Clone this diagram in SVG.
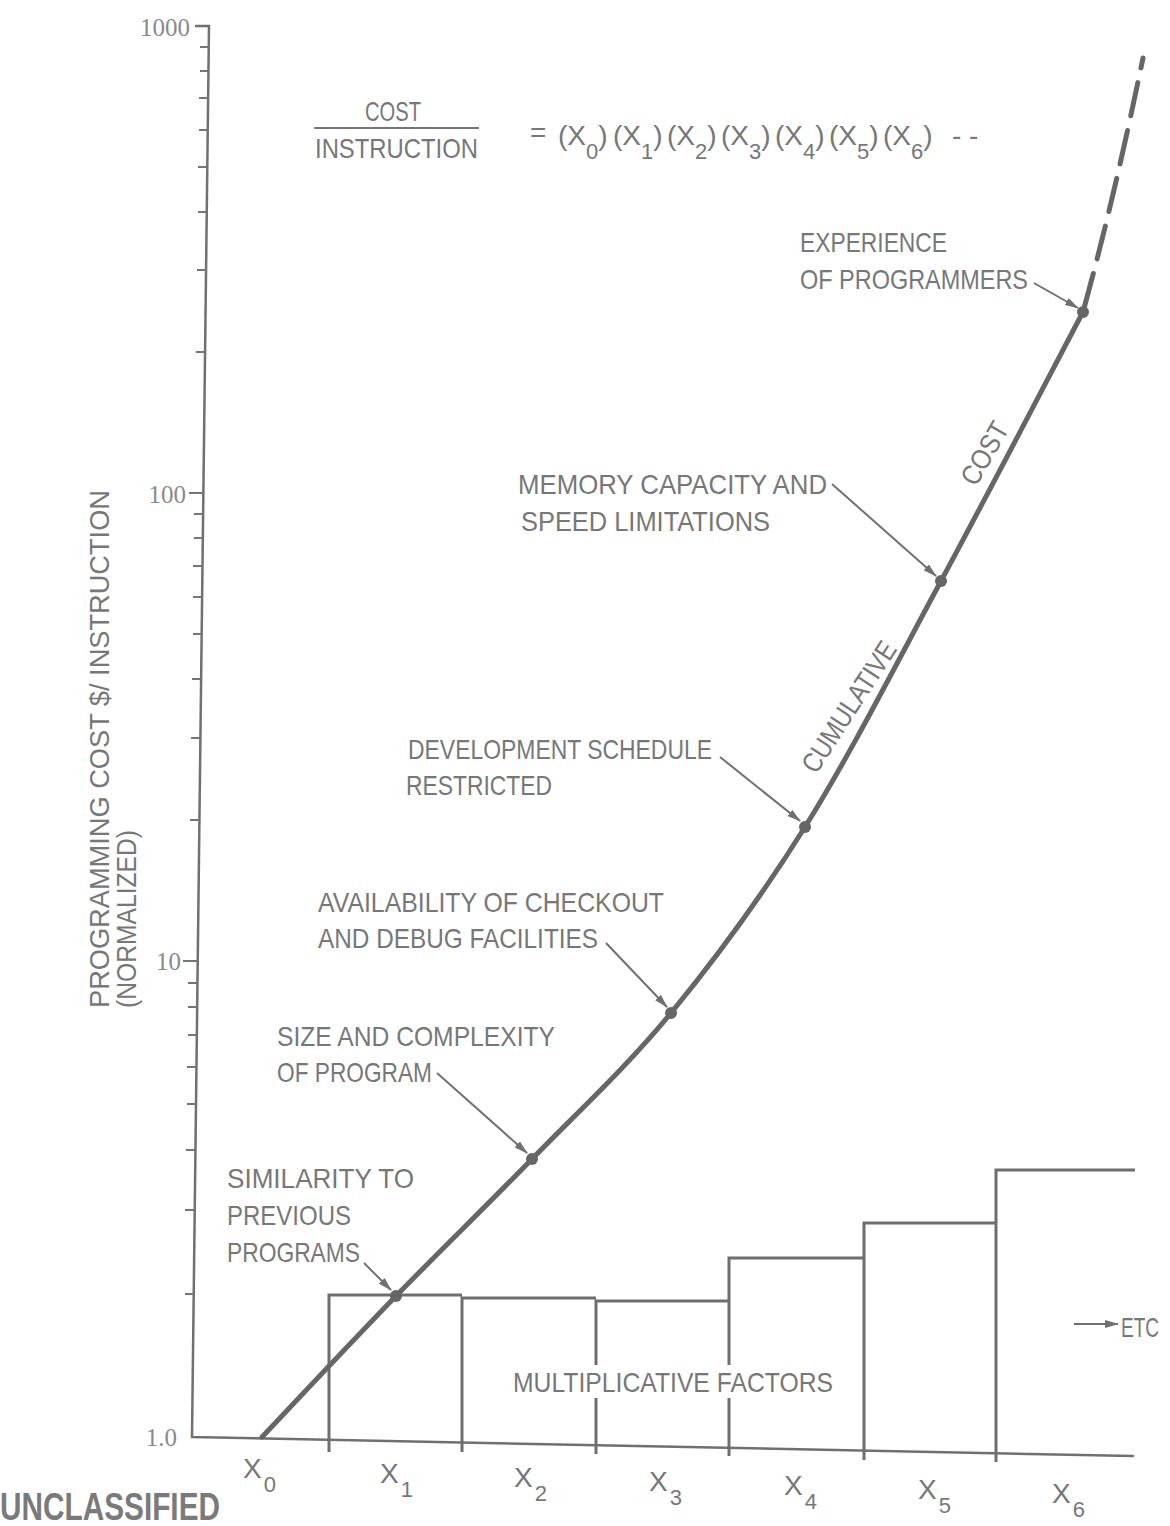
<svg xmlns="http://www.w3.org/2000/svg" width="1170" height="1526" viewBox="0 0 1170 1526">
<style>
.t{font-family:"Liberation Sans","DejaVu Sans",sans-serif;font-size:28px;fill:#777777;}
.n{font-family:"Liberation Serif","DejaVu Serif",serif;font-size:25px;fill:#8a8a8a;}
.sub{font-size:22px;}
.ax{stroke:#707070;stroke-width:2.5;fill:none;stroke-linecap:round;}
.tk{stroke:#757575;stroke-width:2;fill:none;}
.bar{stroke:#6e6e6e;stroke-width:3;fill:none;}
.curve{stroke:#666666;stroke-width:5;fill:none;stroke-linecap:round;}
.lead{stroke:#707070;stroke-width:2;fill:none;}
.dot{fill:#666666;}
</style>
<defs>
<marker id="ah" markerUnits="userSpaceOnUse" markerWidth="14" markerHeight="8" refX="13" refY="4" orient="auto">
<path d="M0,0 L14,4 L0,8 Z" fill="#707070"/>
</marker>
</defs>
<rect width="1170" height="1526" fill="#ffffff"/>

<g id="y-axis">
<path class="ax" d="M196,26 L209,26 L192,1437 L1133,1456"/>
<path class="tk" d="M200,47 H209 M200,71 H209 M199,98 H208 M199,130 H208 M198,167 H207 M198,212 H207 M197,270 H206 M196,352 H205
M189,493 H204 M194,514 H203 M194,538 H203 M193,566 H202 M193,597 H202 M193,634 H202 M192,679 H201 M191,738 H200 M190,820 H199
M183,961 H198 M188,983 H197 M188,1007 H197 M188,1035 H197 M187,1067 H196 M187,1104 H196 M186,1150 H195 M185,1210 H195 M185,1294 H194"/>
<text class="n" x="190" y="36" text-anchor="end">1000</text>
<text class="n" x="186" y="503" text-anchor="end">100</text>
<text class="n" x="181" y="970" text-anchor="end">10</text>
<text class="n" x="177" y="1446" text-anchor="end">1.0</text>
<text class="t" transform="translate(109,1008) rotate(-90)" textLength="518" lengthAdjust="spacingAndGlyphs">PROGRAMMING COST $/ INSTRUCTION</text>
<text class="t" font-size="26" transform="translate(136,1008) rotate(-90)" textLength="178" lengthAdjust="spacingAndGlyphs">(NORMALIZED)</text>
</g>

<g id="formula">
<text class="t" x="393" y="121" text-anchor="middle" textLength="56" lengthAdjust="spacingAndGlyphs">COST</text>
<line class="tk" x1="314" y1="128" x2="479" y2="128"/>
<text class="t" x="315" y="158" textLength="163" lengthAdjust="spacingAndGlyphs">INSTRUCTION</text>
<text class="t" x="530" y="142">=</text>
<text class="t" x="558" y="145">(X<tspan class="sub" dy="14">0</tspan><tspan dy="-14">)</tspan></text>
<text class="t" x="613" y="145">(X<tspan class="sub" dy="14">1</tspan><tspan dy="-14">)</tspan></text>
<text class="t" x="667" y="145">(X<tspan class="sub" dy="14">2</tspan><tspan dy="-14">)</tspan></text>
<text class="t" x="721" y="145">(X<tspan class="sub" dy="14">3</tspan><tspan dy="-14">)</tspan></text>
<text class="t" x="775" y="145">(X<tspan class="sub" dy="14">4</tspan><tspan dy="-14">)</tspan></text>
<text class="t" x="829" y="145">(X<tspan class="sub" dy="14">5</tspan><tspan dy="-14">)</tspan></text>
<text class="t" x="883" y="145">(X<tspan class="sub" dy="14">6</tspan><tspan dy="-14">)</tspan></text>
<text class="t" x="952" y="145">- -</text>
</g>

<g id="bars">
<path class="bar" d="M329,1452 V1295 H462 M462,1452 V1298 H596 M596,1454 V1398 M596,1365 V1301 H729 M729,1456 V1398 M729,1365 V1258 H864 M864,1460 V1223 H996 M996,1462 V1170 H1135"/>
<text class="t" x="513" y="1392" textLength="320" lengthAdjust="spacingAndGlyphs">MULTIPLICATIVE FACTORS</text>
<line class="lead" x1="1074" y1="1324" x2="1118" y2="1324" marker-end="url(#ah)"/>
<text class="t" x="1121" y="1337" textLength="38" lengthAdjust="spacingAndGlyphs">ETC</text>
</g>

<g id="x-labels">
<text class="t" x="243" y="1478">X<tspan class="sub" dx="2" dy="14">0</tspan></text>
<text class="t" x="380" y="1483">X<tspan class="sub" dx="2" dy="14">1</tspan></text>
<text class="t" x="514" y="1487">X<tspan class="sub" dx="2" dy="14">2</tspan></text>
<text class="t" x="649" y="1491">X<tspan class="sub" dx="2" dy="14">3</tspan></text>
<text class="t" x="784" y="1495">X<tspan class="sub" dx="2" dy="14">4</tspan></text>
<text class="t" x="918" y="1499">X<tspan class="sub" dx="2" dy="14">5</tspan></text>
<text class="t" x="1052" y="1503">X<tspan class="sub" dx="2" dy="14">6</tspan></text>
</g>

<g id="curve">
<path class="curve" d="M262,1437 C284.3,1413.5 351,1342.3 396,1296 C441,1249.7 486.2,1206.2 532,1159 C577.8,1111.8 625.5,1068.3 671,1013 C716.5,957.7 760,899 805,827 C850,755 894.7,666.8 941,581 C987.3,495.2 1059.3,356.8 1083,312"/>
<path class="curve" d="M1083,312 C1105,232 1124,150 1143,58" stroke-dasharray="34 15" stroke-dashoffset="-6"/>
<circle class="dot" cx="396" cy="1296" r="6"/>
<circle class="dot" cx="532" cy="1159" r="6"/>
<circle class="dot" cx="671" cy="1013" r="6"/>
<circle class="dot" cx="805" cy="827" r="6"/>
<circle class="dot" cx="941" cy="581" r="6"/>
<circle class="dot" cx="1083" cy="312" r="6"/>
<text class="t" transform="translate(857,712) rotate(-57)" text-anchor="middle" textLength="150" lengthAdjust="spacingAndGlyphs">CUMULATIVE</text>
<text class="t" transform="translate(993,458) rotate(-60)" text-anchor="middle" textLength="68" lengthAdjust="spacingAndGlyphs">COST</text>
</g>

<g id="label-similarity">
<text class="t" x="227" y="1188" textLength="187" lengthAdjust="spacingAndGlyphs">SIMILARITY TO</text>
<text class="t" x="227" y="1225" textLength="124" lengthAdjust="spacingAndGlyphs">PREVIOUS</text>
<text class="t" x="227" y="1262" textLength="133" lengthAdjust="spacingAndGlyphs">PROGRAMS</text>
</g>
<g id="label-size">
<text class="t" x="277" y="1046" textLength="278" lengthAdjust="spacingAndGlyphs">SIZE AND COMPLEXITY</text>
<text class="t" x="277" y="1082" textLength="155" lengthAdjust="spacingAndGlyphs">OF PROGRAM</text>
</g>
<g id="label-availability">
<text class="t" x="318" y="912" textLength="346" lengthAdjust="spacingAndGlyphs">AVAILABILITY OF CHECKOUT</text>
<text class="t" x="318" y="948" textLength="280" lengthAdjust="spacingAndGlyphs">AND DEBUG FACILITIES</text>
</g>
<g id="label-development">
<text class="t" x="408" y="759" textLength="304" lengthAdjust="spacingAndGlyphs">DEVELOPMENT SCHEDULE</text>
<text class="t" x="406" y="795" textLength="146" lengthAdjust="spacingAndGlyphs">RESTRICTED</text>
</g>
<g id="label-memory">
<text class="t" x="518" y="494" textLength="309" lengthAdjust="spacingAndGlyphs">MEMORY CAPACITY AND</text>
<text class="t" x="521" y="531" textLength="249" lengthAdjust="spacingAndGlyphs">SPEED LIMITATIONS</text>
</g>
<g id="label-experience">
<text class="t" x="800" y="252" textLength="147" lengthAdjust="spacingAndGlyphs">EXPERIENCE</text>
<text class="t" x="800" y="289" textLength="228" lengthAdjust="spacingAndGlyphs">OF PROGRAMMERS</text>
</g>

<g id="connectors">
<line class="lead" x1="364" y1="1263" x2="391" y2="1290" marker-end="url(#ah)"/>
<line class="lead" x1="437" y1="1073" x2="527" y2="1153" marker-end="url(#ah)"/>
<line class="lead" x1="606" y1="943" x2="667" y2="1007" marker-end="url(#ah)"/>
<line class="lead" x1="720" y1="757" x2="800" y2="821" marker-end="url(#ah)"/>
<line class="lead" x1="832" y1="484" x2="936" y2="576" marker-end="url(#ah)"/>
<line class="lead" x1="1034" y1="283" x2="1078" y2="308" marker-end="url(#ah)"/>
</g>

<g id="stamp">
<text x="0" y="1520" font-family="Liberation Sans, DejaVu Sans, sans-serif" font-weight="bold" font-size="38" fill="#7a7a7a" textLength="220" lengthAdjust="spacingAndGlyphs">UNCLASSIFIED</text>
</g>
</svg>
